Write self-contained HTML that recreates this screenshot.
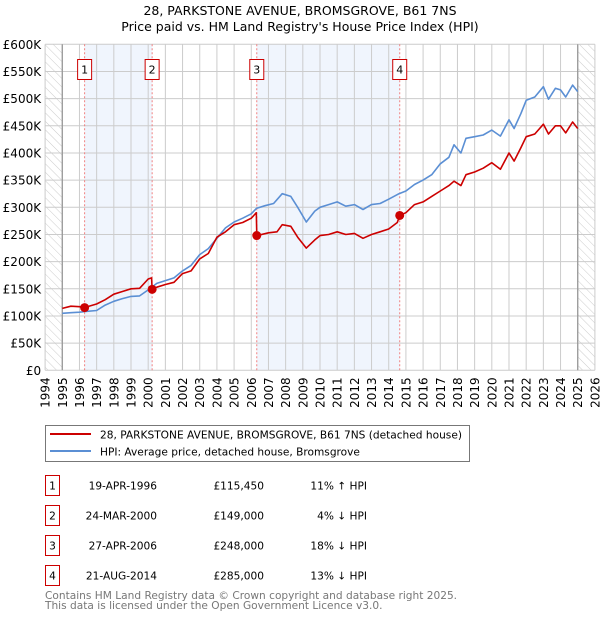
<!DOCTYPE html>
<html><head><meta charset="utf-8"><style>
body{margin:0;background:#fff;font-family:"DejaVu Sans","Liberation Sans",sans-serif;}
#wrap{position:relative;width:600px;height:620px;overflow:hidden}
</style></head><body>
<div id="wrap">
<svg id="chart" width="600" height="620" xmlns="http://www.w3.org/2000/svg" style="font-family:'DejaVu Sans','Liberation Sans',sans-serif">
<defs>
<pattern id="hatch" width="6" height="6" patternUnits="userSpaceOnUse" patternTransform="rotate(-45)">
<line x1="0" y1="0" x2="0" y2="6" stroke="#ccc" stroke-width="1"/>
</pattern>
</defs>
<text x="300" y="15" text-anchor="middle" font-size="12.5" fill="#000">28, PARKSTONE AVENUE, BROMSGROVE, B61 7NS</text>
<text x="300" y="31" text-anchor="middle" font-size="12.5" fill="#000">Price paid vs. HM Land Registry's House Price Index (HPI)</text>
<g id="plot"></g>
<g>
<rect x="45.5" y="425.5" width="424" height="36" fill="#fff" stroke="#777" stroke-width="1"/>
<line x1="50" y1="434" x2="91" y2="434" stroke="#cc0000" stroke-width="2"/>
<text x="100" y="438.5" font-size="10.6">28, PARKSTONE AVENUE, BROMSGROVE, B61 7NS (detached house)</text>
<line x1="50" y1="451" x2="91" y2="451" stroke="#5b8fd4" stroke-width="2"/>
<text x="100" y="455.5" font-size="10.6">HPI: Average price, detached house, Bromsgrove</text>
</g>
<g id="table" font-size="10.6"></g>
<text x="45" y="599" font-size="10.6" fill="#777">Contains HM Land Registry data © Crown copyright and database right 2025.</text>
<text x="45" y="609" font-size="10.6" fill="#777">This data is licensed under the Open Government Licence v3.0.</text>
</svg>
</div>
<script>
const hpiYears=[1995,1995.5,1996,1996.3,1997,1997.5,1998,1998.5,1999,1999.5,2000,2000.5,2001,2001.5,2002,2002.5,2003,2003.5,2004,2004.5,2005,2005.5,2006,2006.3,2006.8,2007.3,2007.8,2008.3,2008.7,2009.2,2009.7,2010,2010.5,2011,2011.5,2012,2012.5,2013,2013.5,2014,2014.6,2015,2015.5,2016,2016.5,2017,2017.5,2017.8,2018.2,2018.5,2019,2019.5,2020,2020.5,2021,2021.3,2021.7,2022,2022.5,2023,2023.3,2023.7,2024,2024.3,2024.7,2025];
const hpiValues=[105,106,107,108,110,120,127,132,136,137,148,160,165,170,183,193,213,224,243,262,273,280,288,298,303,307,325,320,300,273,293,300,305,310,302,305,296,305,307,315,325,330,342,350,360,380,392,415,400,427,430,433,442,431,461,445,473,497,503,522,499,519,516,503,525,513];
const priceYears=[1995,1995.5,1996,1996.29,1996.3,1997,1997.5,1998,1998.5,1999,1999.5,2000,2000.2,2000.23,2000.5,2001,2001.5,2002,2002.5,2003,2003.5,2004,2004.5,2005,2005.5,2006,2006.29,2006.32,2007,2007.5,2007.8,2008.3,2008.7,2009.2,2009.7,2010,2010.5,2011,2011.5,2012,2012.5,2013,2013.5,2014,2014.5,2014.64,2015,2015.5,2016,2016.5,2017,2017.5,2017.8,2018.2,2018.5,2019,2019.5,2020,2020.5,2021,2021.3,2021.7,2022,2022.5,2023,2023.3,2023.7,2024,2024.3,2024.7,2025];
const priceValues=[114,118,117,116,115.5,122,130,140,145,150,151,168,170,149,153,158,162,178,183,205,215,245,255,268,272,280,290,248,253,255,268,265,245,225,240,248,250,255,250,252,243,250,255,260,272,285,290,305,310,320,330,340,348,340,360,365,372,382,370,400,385,410,430,435,453,435,450,450,437,457,445];
const saleYears=[1996.3,2000.23,2006.32,2014.64];
const saleValues=[115.45,149,248,285];
const saleLabels=["1","2","3","4"];
const saleDates=["19-APR-1996","24-MAR-2000","27-APR-2006","21-AUG-2014"];
const salePrices=["£115,450","£149,000","£248,000","£285,000"];
const saleHpi=["11% ↑ HPI","4% ↓ HPI","18% ↓ HPI","13% ↓ HPI"];
const yTicks=[0,50,100,150,200,250,300,350,400,450,500,550,600];
const yTickLabels=["£0","£50K","£100K","£150K","£200K","£250K","£300K","£350K","£400K","£450K","£500K","£550K","£600K"];

const NS="http://www.w3.org/2000/svg";
const X0=45.1,X1=594.9,Y0=370.3,Y1=44.3;
const xs=y=>X0+(y-1994)/(2026-1994)*(X1-X0);
const ys=v=>Y0-v/600*(Y0-Y1);
function mk(tag,attrs,parent){const e=document.createElementNS(NS,tag);for(const k in attrs)e.setAttribute(k,attrs[k]);parent.appendChild(e);return e;}
const plot=document.getElementById('plot');
for(const [a,b] of [[saleYears[0],saleYears[1]],[saleYears[2],saleYears[3]]]){
  const r=mk('rect',{x:xs(a),y:Y1,width:xs(b)-xs(a),height:Y0-Y1,fill:'#f0f5fd'},plot);
  
  
}
const h1=mk('rect',{x:X0,y:Y1,width:xs(1995)-X0,height:Y0-Y1,fill:'url(#hatch)'},plot);


const h2=mk('rect',{x:xs(2025),y:Y1,width:X1-xs(2025),height:Y0-Y1,fill:'url(#hatch)'},plot);


for(let y=1994;y<=2026;y++){
  const l=mk('line',{x1:xs(y),x2:xs(y),y1:Y1,y2:Y0,stroke:'#cccccc','stroke-width':1},plot);
  
  
  const t=mk('text',{x:0,y:0,'font-size':12,'text-anchor':'end',transform:`translate(${xs(y)+4.5},${Y0+7}) rotate(-90)`},plot);
  t.textContent=y;
  
  
}
yTicks.forEach((v,i)=>{
  const l=mk('line',{x1:X0,x2:X1,y1:ys(v),y2:ys(v),stroke:'#cccccc','stroke-width':1},plot);
  
  
  const t=mk('text',{x:X0-4,y:ys(v)+4.5,'font-size':12,'text-anchor':'end'},plot);
  t.textContent=yTickLabels[i];
  
  
});
[1995,2025].forEach(y=>{
  const l=mk('line',{x1:xs(y),x2:xs(y),y1:Y1,y2:Y0,stroke:'#999','stroke-width':1.3},plot);
  
  
});
saleYears.forEach((y,i)=>{
  const l=mk('line',{x1:xs(y),x2:xs(y),y1:Y1,y2:Y0,stroke:'#f08080','stroke-width':1,'stroke-dasharray':'2,2'},plot);
  
  
});
function path(xa,va,color,name){
  const d=xa.map((x,i)=>(i?'L':'M')+xs(x).toFixed(1)+','+ys(va[i]).toFixed(1)).join('');
  const p=mk('path',{d:d,fill:'none',stroke:color,'stroke-width':1.6,'stroke-linejoin':'round'},plot);
  
  
}
path(hpiYears,hpiValues,'#5b8fd4','hpi-line');
path(priceYears,priceValues,'#cc0000','price-paid-line');
saleYears.forEach((y,i)=>{
  const c=mk('circle',{cx:xs(y),cy:ys(saleValues[i]),r:4.5,fill:'#cc0000'},plot);
  
  
  const g=mk('g',{},plot);
  
  
  mk('rect',{x:xs(y)-7,y:59.5,width:14,height:20,fill:'#fff',stroke:'#cc0000','stroke-width':1},g);
  const t=mk('text',{x:xs(y),y:73.5,'font-size':11,'text-anchor':'middle'},g);
  t.textContent=saleLabels[i];
});
const tb=document.getElementById('table');
saleLabels.forEach((s,i)=>{
  const cy=483+i*30;
  const g=mk('g',{},tb);
  
  
  mk('rect',{x:45.5,y:cy-7.5,width:14,height:20,fill:'#fff',stroke:'#cc0000','stroke-width':1},g);
  const a=mk('text',{x:52.5,y:cy+6.5,'text-anchor':'middle'},g);a.textContent=s;
  const b=mk('text',{x:157,y:cy+6.5,'text-anchor':'end'},g);b.textContent=saleDates[i];
  const c=mk('text',{x:264,y:cy+6.5,'text-anchor':'end'},g);c.textContent=salePrices[i];
  const d=mk('text',{x:367,y:cy+6.5,'text-anchor':'end'},g);d.textContent=saleHpi[i];
});
</script>
</body></html>
